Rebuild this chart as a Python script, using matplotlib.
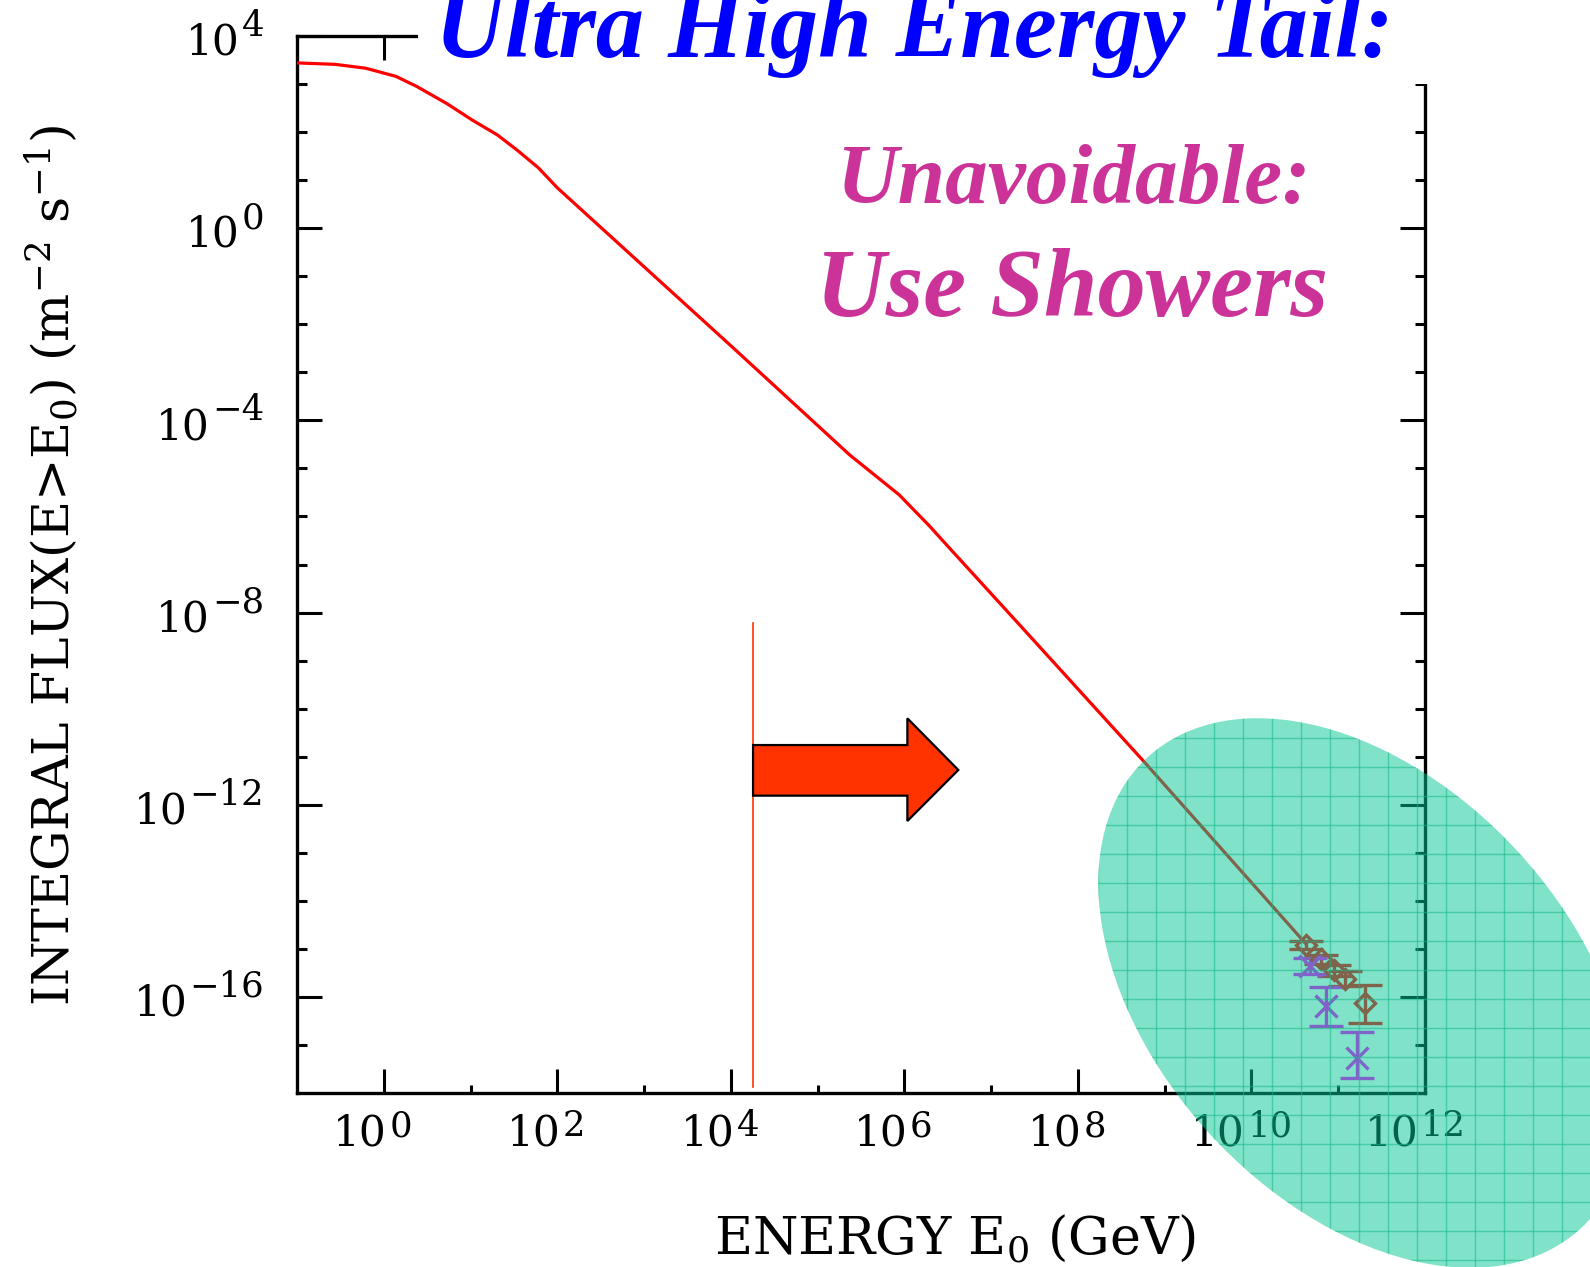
import matplotlib
matplotlib.use("Agg")
import numpy as np
import matplotlib.pyplot as plt
from matplotlib.patches import Ellipse, Polygon, Rectangle
from matplotlib.collections import LineCollection
from matplotlib.ticker import FixedLocator, NullFormatter

plt.rcParams["font.family"] = ["DejaVu Serif"]
plt.rcParams["mathtext.fontset"] = "dejavuserif"

# Integral cosmic-ray flux above E0 (log10 GeV, log10 m^-2 s^-1)
log_energy = [-1.0, -0.56, -0.21, 0.14, 0.38, 0.73, 1.02, 1.31, 1.54, 1.78, 2.0,
              3.99, 5.37, 5.94, 6.29, 6.44, 7.36, 8.77, 10.62]
log_flux = [3.44, 3.41, 3.33, 3.16, 2.95, 2.59, 2.25, 1.94, 1.62, 1.26, 0.84,
            -2.43, -4.72, -5.55, -6.20, -6.50, -8.32, -11.12, -14.88]

# Air-shower measurements at the highest energies (diamonds)
diamond_log_e = [10.63, 10.80, 10.95, 11.08, 11.31]
diamond_log_f = [-14.92, -15.22, -15.45, -15.62, -16.12]
diamond_log_hi = [-14.84, -15.12, -15.33, -15.47, -15.75]
diamond_log_lo = [-15.00, -15.32, -15.57, -15.77, -16.55]

# Air-shower measurements at the highest energies (crosses)
cross_log_e = [10.67, 10.86, 11.22]
cross_log_f = [-15.35, -16.19, -17.28]
cross_log_hi = [-15.20, -15.80, -16.72]
cross_log_lo = [-15.52, -16.60, -17.69]

# Threshold energy marked by the vertical line and arrow
threshold_log_e = 4.25
threshold_log_f_range = [-8.21, -17.87]

# Axis ticks (decade exponents)
x_major_exp = [0, 2, 4, 6, 8, 10, 12]
x_minor_exp = [1, 3, 5, 7, 9, 11]
y_major_exp = [4, 0, -4, -8, -12, -16]
y_minor_exp = [3, 2, 1, -1, -2, -3, -5, -6, -7, -9, -10, -11, -13, -14, -15, -17]
x_limits_exp = [-1, 12]
y_limits_exp = [-18, 4]

title_text = "Ultra High Energy Tail:"
note_lines = ["Unavoidable:", "Use Showers"]
x_label = r"ENERGY E$_\mathregular{0}$ (GeV)"
y_label = (r"INTEGRAL FLUX(E>E$_\mathregular{0}$) "
           r"(m$^{\mathregular{-2}}$ s$^{\mathregular{-1}}$)")

W, H, DPI = 1590, 1267, 100
fig = plt.figure(figsize=(W / DPI, H / DPI), dpi=DPI)
ax = fig.add_axes([297 / W, 1 - 1093 / H, 1128 / W, 1057 / H])

energy = 10 ** np.array(log_energy)
flux = 10 ** np.array(log_flux)
ax.plot(energy, flux, color="#ff0000", lw=2.3, zorder=3)


def draw_points(le, lf, hi, lo, fmt, color, ms, mfc):
    e = 10 ** np.array(le)
    f = 10 ** np.array(lf)
    yerr = [f - 10 ** np.array(lo), 10 ** np.array(hi) - f]
    ax.errorbar(e, f, yerr=yerr, fmt=fmt, color=color, mec=color, mfc=mfc,
                ms=ms, mew=2.4, elinewidth=2.4, capsize=12.5, capthick=2.4,
                zorder=4)


draw_points(diamond_log_e, diamond_log_f, diamond_log_hi, diamond_log_lo,
            "D", "#ff0000", 10, "none")
draw_points(cross_log_e, cross_log_f, cross_log_hi, cross_log_lo,
            "x", "#ff00ff", 16, "#ff00ff")

# Threshold line and arrow pointing to higher energies
ax.plot([10 ** threshold_log_e] * 2, 10 ** np.array(threshold_log_f_range),
        color="#ff3300", lw=1.2, zorder=3)
arrow = Polygon([(0.4043, 0.3292), (0.5411, 0.3292), (0.5411, 0.3545),
                 (0.5863, 0.3056), (0.5411, 0.2573), (0.5411, 0.2813),
                 (0.4043, 0.2813)], closed=True, transform=ax.transAxes,
                facecolor="#ff3300", edgecolor="black", lw=1.6, zorder=5)
ax.add_patch(arrow)

ax.set_xscale("log")
ax.set_yscale("log")
ax.set_xlim(10.0 ** x_limits_exp[0], 10.0 ** x_limits_exp[1])
ax.set_ylim(10.0 ** y_limits_exp[0], 10.0 ** y_limits_exp[1])

ax.xaxis.set_major_locator(FixedLocator([10.0 ** k for k in x_major_exp]))
ax.xaxis.set_minor_locator(FixedLocator([10.0 ** k for k in x_minor_exp]))
ax.yaxis.set_major_locator(FixedLocator([10.0 ** k for k in y_major_exp]))
ax.yaxis.set_minor_locator(FixedLocator([10.0 ** k for k in y_minor_exp]))
ax.xaxis.set_minor_formatter(NullFormatter())
ax.yaxis.set_minor_formatter(NullFormatter())

ax.tick_params(axis="x", which="major", direction="in", length=17, width=2.2,
               top=True, labelbottom=False)
ax.tick_params(axis="x", which="minor", direction="in", length=6, width=2.2,
               top=True)
ax.tick_params(axis="y", which="major", direction="in", length=18, width=2.2,
               right=True, labelleft=False)
ax.tick_params(axis="y", which="minor", direction="in", length=7.5, width=2.2,
               right=True)
for sp in ax.spines.values():
    sp.set_linewidth(2.4)

# Decade labels "10" with a large raised exponent
BASE_FS, EXP_FS = 30.5, 25.5


def exp_text(k):
    return str(k).replace("-", "\u2212")


for k in y_major_exp:
    e_art = ax.annotate(exp_text(k), xy=(0, 10.0 ** k),
                        xycoords=("axes fraction", "data"),
                        xytext=(-23.5, 0), textcoords="offset points",
                        ha="right", va="baseline", fontsize=EXP_FS)
    ax.annotate("10", xy=(0, 10.0 ** k), xycoords=(e_art, "data"),
                xytext=(-1.5, -13.5), textcoords="offset points",
                ha="right", va="baseline", fontsize=BASE_FS)

for k in x_major_exp:
    s = exp_text(k)
    b_art = ax.annotate("10", xy=(10.0 ** k, 0),
                        xycoords=("data", "axes fraction"),
                        xytext=(2.5 - (len(s) - 1) * 7, -38),
                        textcoords="offset points",
                        ha="right", va="baseline", fontsize=BASE_FS)
    ax.annotate(s, xy=(1, 0), xycoords=b_art,
                xytext=(1.5, 13.5), textcoords="offset points",
                ha="left", va="baseline", fontsize=EXP_FS)

ax.set_xlabel(x_label, fontsize=37.5, va="baseline")
ax.xaxis.set_label_coords(0.5833, -0.1523)
ax.set_ylabel(y_label, fontsize=36.5, va="center")
ax.yaxis.set_label_coords(-0.218, 0.4995)

# White band behind the headline
fig.add_artist(Rectangle((418 / W, 1 - 84 / H), 1 - 418 / W, 84 / H,
                         transform=fig.transFigure, facecolor="white",
                         edgecolor="none", zorder=2))

fig.text(914 / W, 1 - 57 / H, title_text, ha="center", va="baseline",
         fontsize=69.5, family="Liberation Serif", weight="bold", style="italic",
         color="#0000ff", zorder=3)
fig.text(1073 / W, 1 - 203 / H, note_lines[0], ha="center", va="baseline",
         fontsize=61.5, family="Liberation Serif", weight="bold", style="italic",
         color="#cc3399", zorder=3)
fig.text(1072 / W, 1 - 316 / H, note_lines[1], ha="center", va="baseline",
         fontsize=69.5, family="Liberation Serif", weight="bold", style="italic",
         color="#cc3399", zorder=3)

# Translucent highlight over the ultra-high-energy region
ell_center = (13.64, (H - 993) / DPI)
highlight = Ellipse(ell_center, width=6.40, height=4.18, angle=-47.4,
                    transform=fig.dpi_scale_trans, facecolor=(0.0, 0.78, 0.58),
                    alpha=0.5, edgecolor="none", zorder=6)
fig.add_artist(highlight)

step = 0.29
gx0, gy0 = 11.267, (H - 737.7) / DPI
segs = []
for k in range(-5, 25):
    x = gx0 + k * step
    segs.append([(x, -1.0), (x, 8.0)])
for k in range(-5, 25):
    y = gy0 - k * step
    segs.append([(9.0, y), (17.0, y)])
grid = LineCollection(segs, colors="#17b98c", linewidths=1.0, alpha=0.55,
                      transform=fig.dpi_scale_trans, zorder=7)
fig.add_artist(grid)
grid.set_clip_path(highlight)

fig.savefig("out.png", dpi=DPI, facecolor="white")
